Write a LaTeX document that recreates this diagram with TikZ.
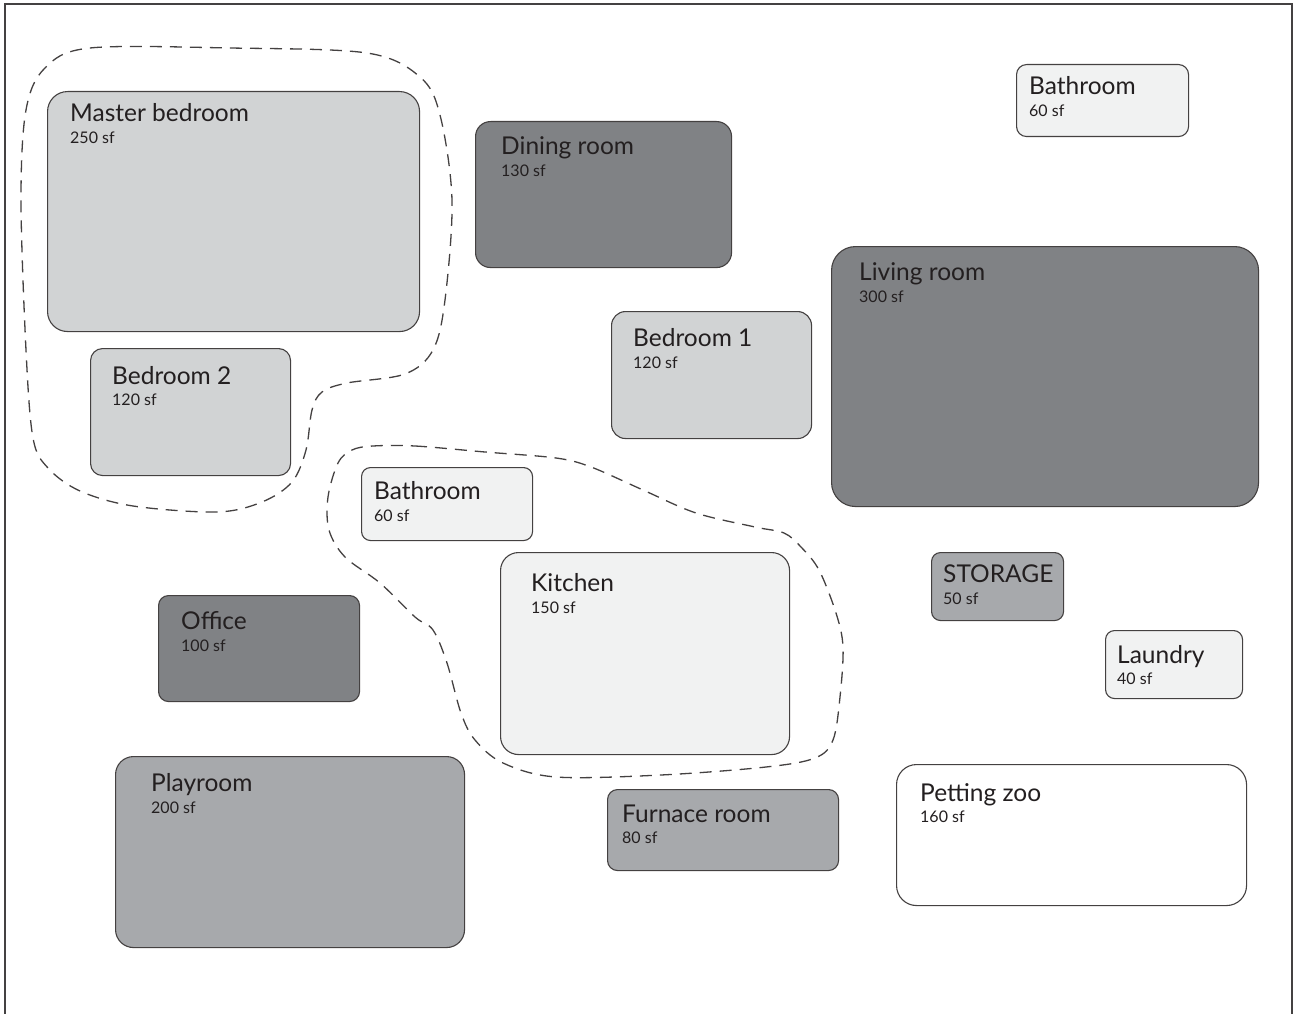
\documentclass[tikz,border=0pt]{standalone}
\usepackage{fontspec}
\setmainfont{Lato}
\definecolor{roomLight}{HTML}{D1D3D4}
\definecolor{roomDark}{HTML}{808285}
\definecolor{roomMid}{HTML}{A7A9AC}
\definecolor{roomPale}{HTML}{F1F2F2}
\definecolor{ink}{HTML}{231F20}
\begin{document}
\begin{tikzpicture}[x=1pt, y=-1pt,
		room/.style={draw=ink!85, line width=1.1pt, anchor=north west, inner sep=0pt},
		title/.style={anchor=base west, inner sep=0pt, text=ink, font=\fontsize{24.5}{28}\selectfont},
		area/.style={anchor=base west, inner sep=0pt, text=ink, font=\fontsize{16}{19}\selectfont},
		zone/.style={draw=ink!85, line width=1.3pt, dash pattern=on 12pt off 8pt}]
		\useasboundingbox (0,0) rectangle (1296,1014);
		% рамка
		\draw [ink!85, line width=1.4pt] (5,1014) -- (5,4) -- (1292,4) -- (1292,1014);

		% зоны
		\draw [zone] plot [smooth cycle, tension=0.55] coordinates {
			(90,48) (230,48) (367,53) (420,77) (440,115) (452,200) (445,300) (433,350)
			(405,374) (347,383) (322,392) (312,410) (306,450) (292,482) (262,502) (217,512)
			(133,506) (80,491) (48,468) (33,438) (26,350) (21,200) (26,110) (45,68)};
		\draw [zone] plot [smooth cycle, tension=0.55] coordinates {
			(373,446) (415,446) (485,452) (556,458) (591,467) (643,490) (696,513) (755,527)
			(784,533) (801,547) (819,570) (836,613) (843,647) (840,697) (833,740) (815,758)
			(766,767) (661,775) (556,777) (503,763) (475,740) (461,713) (447,663) (433,630)
			(415,617) (380,583) (345,557) (329,530) (328,497) (338,463) (352,450)};

		% комнаты
		\node [room, fill=roomLight, rounded corners=20, minimum width=372, minimum height=240] (master) at (47,91) {};
		\node [title] (masterT) at (70,122) {Master bedroom};
		\node [area] (masterA) at (70,143) {250 sf};

		\node [room, fill=roomDark, rounded corners=15, minimum width=256, minimum height=146] (dining) at (475,121) {};
		\node [title] (diningT) at (501,155) {Dining room};
		\node [area] (diningA) at (501,176) {130 sf};

		\node [room, fill=roomPale, rounded corners=10, minimum width=172, minimum height=72] (bathA) at (1016,64) {};
		\node [title] (bathAT) at (1029,95) {Bathroom};
		\node [area] (bathAA) at (1029,117) {60 sf};

		\node [room, fill=roomDark, rounded corners=24, minimum width=427, minimum height=260] (living) at (831,246) {};
		\node [title] (livingT) at (859,280) {Living room};
		\node [area] (livingA) at (859,302) {300 sf};

		\node [room, fill=roomLight, rounded corners=14, minimum width=200, minimum height=127] (bedA) at (611,311) {};
		\node [title] (bedAT) at (633,346) {Bedroom 1};
		\node [area] (bedAA) at (633,368) {120 sf};

		\node [room, fill=roomLight, rounded corners=12, minimum width=200, minimum height=127] (bedB) at (90,348) {};
		\node [title] (bedBT) at (112,384) {Bedroom 2};
		\node [area] (bedBA) at (112,405) {120 sf};

		\node [room, fill=roomPale, rounded corners=9, minimum width=171, minimum height=73] (bathB) at (361,467) {};
		\node [title] (bathBT) at (374,499) {Bathroom};
		\node [area] (bathBA) at (374,521) {60 sf};

		\node [room, fill=roomPale, rounded corners=18, minimum width=289, minimum height=202] (kitchen) at (500,552) {};
		\node [title] (kitchenT) at (531,591) {Kitchen};
		\node [area] (kitchenA) at (531,613) {150 sf};

		\node [room, fill=roomMid, rounded corners=9, minimum width=132, minimum height=68] (storage) at (931,552) {};
		\node [title] (storageT) at (943,582) {STORAGE};
		\node [area] (storageA) at (943,604) {50 sf};

		\node [room, fill=roomDark, rounded corners=10, minimum width=201, minimum height=106] (office) at (158,595) {};
		\node [title] (officeT) at (181,629) {Office};
		\node [area] (officeA) at (181,651) {100 sf};

		\node [room, fill=roomPale, rounded corners=9, minimum width=137, minimum height=68] (laundry) at (1105,630) {};
		\node [title] (laundryT) at (1117,663) {Laundry};
		\node [area] (laundryA) at (1117,684) {40 sf};

		\node [room, fill=roomMid, rounded corners=18, minimum width=349, minimum height=191] (play) at (115,756) {};
		\node [title] (playT) at (151,791) {Playroom};
		\node [area] (playA) at (151,813) {200 sf};

		\node [room, fill=roomMid, rounded corners=10, minimum width=231, minimum height=81] (furnace) at (607,789) {};
		\node [title] (furnaceT) at (622,822) {Furnace room};
		\node [area] (furnaceA) at (622,843) {80 sf};

		\node [room, fill=white, rounded corners=20, minimum width=350, minimum height=141] (zoo) at (896,764) {};
		\node [title] (zooT) at (920,801) {Petting zoo};
		\node [area] (zooA) at (920,822) {160 sf};
	\end{tikzpicture}
\end{document}
